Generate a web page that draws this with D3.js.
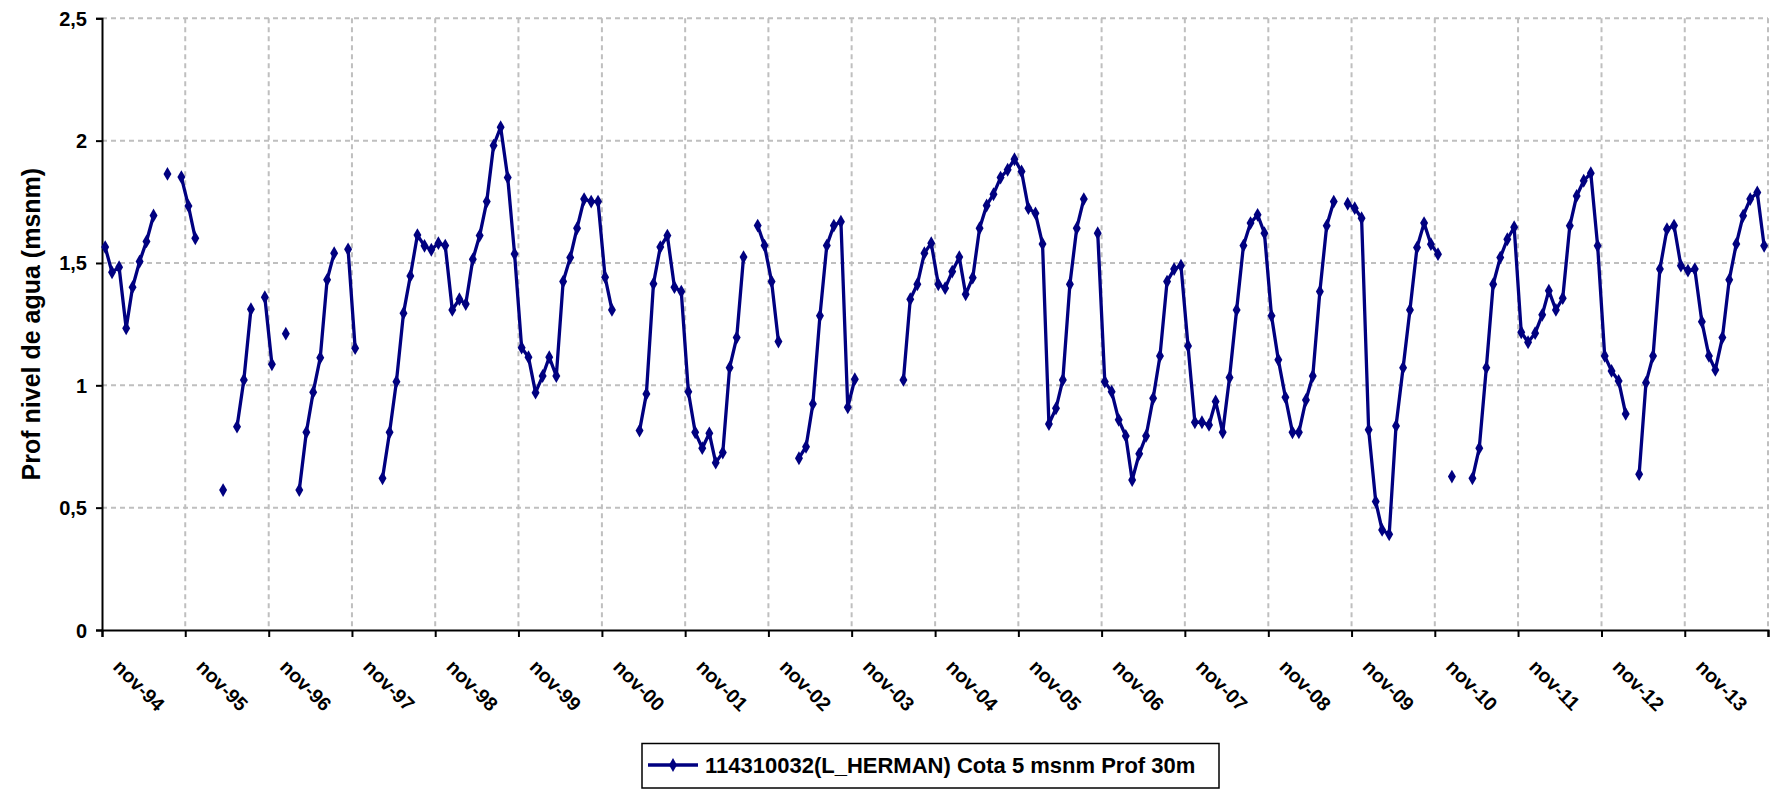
<!DOCTYPE html>
<html>
<head>
<meta charset="utf-8">
<script src="https://cdn.jsdelivr.net/npm/d3@7"></script>
<style>
  html, body { margin: 0; padding: 0; background: #fff; }
  svg { display: block; }
  text { font-family: "Liberation Sans", Arial, sans-serif; font-weight: bold; fill: #000; }
</style>
</head>
<body>
<svg id="chart" width="1776" height="789"></svg>
<script>
// ---- data ----
const seriesName = "114310032(L_HERMAN) Cota 5 msnm Prof 30m";
const firstMonth = "1994-11-15";   // first monthly reading
// monthly water depth values (null = no reading)
const values = [
  1.565, 1.462, 1.483, 1.233, 1.401, 1.506, 1.588, 1.694, null, 1.864,
  null, 1.851, 1.733, 1.601, null, null, null, 0.572, null, 0.831,
  1.022, 1.311, null, 1.360, 1.086, null, 1.211, null, 0.572, 0.808,
  0.972, 1.113, 1.431, 1.540, null, 1.556, 1.152, null, null, null,
  0.620, 0.808, 1.015, 1.295, 1.447, 1.614, 1.570, 1.554, 1.581, 1.571,
  1.308, 1.352, 1.332, 1.515, 1.612, 1.751, 1.980, 2.055, 1.849, 1.537,
  1.154, 1.115, 0.970, 1.038, 1.115, 1.038, 1.424, 1.522, 1.642, 1.761,
  1.751, 1.751, 1.442, 1.308, null, null, null, 0.815, 0.965, 1.415,
  1.565, 1.612, 1.401, 1.383, 0.974, 0.808, 0.743, 0.804, 0.684, 0.725,
  1.072, 1.195, 1.524, null, 1.653, 1.571, 1.424, 1.179, null, null,
  0.702, 0.749, 0.924, 1.284, 1.571, 1.653, 1.669, 0.910, 1.025, null,
  null, null, null, null, null, 1.022, 1.352, 1.413, 1.540, 1.581,
  1.413, 1.397, 1.465, 1.524, 1.372, 1.440, 1.642, 1.735, 1.781, 1.849,
  1.881, 1.924, 1.874, 1.724, 1.703, 1.578, 0.842, 0.906, 1.022, 1.413,
  1.642, 1.761, null, 1.622, 1.015, 0.974, 0.859, 0.793, 0.613, 0.720,
  0.793, 0.947, 1.120, 1.424, 1.475, 1.489, 1.161, 0.849, 0.849, 0.838,
  0.934, 0.808, 1.032, 1.308, 1.571, 1.663, 1.697, 1.622, 1.284, 1.104,
  0.951, 0.808, 0.808, 0.940, 1.038, 1.383, 1.652, 1.751, null, 1.742,
  1.724, 1.683, 0.818, 0.525, 0.409, 0.391, 0.834, 1.072, 1.308, 1.563,
  1.663, 1.577, 1.536, null, 0.627, null, null, 0.620, 0.743, 1.072,
  1.413, 1.522, 1.597, 1.646, 1.217, 1.176, 1.213, 1.288, 1.387, 1.308,
  1.356, 1.652, 1.774, 1.836, 1.867, 1.570, 1.120, 1.059, 1.018, 0.883,
  null, 0.637, 1.011, 1.120, 1.475, 1.638, 1.653, 1.489, 1.469, 1.475,
  1.260, 1.120, 1.063, 1.195, 1.431, 1.578, 1.693, 1.761, 1.788, 1.570
];
const xTickLabels = ["nov-94","nov-95","nov-96","nov-97","nov-98","nov-99","nov-00",
  "nov-01","nov-02","nov-03","nov-04","nov-05","nov-06","nov-07","nov-08","nov-09",
  "nov-10","nov-11","nov-12","nov-13"];
const yTicks = [0, 0.5, 1, 1.5, 2, 2.5];
const yTickLabels = ["0", "0,5", "1", "1,5", "2", "2,5"];
const yTitle = "Prof nivel de agua (msnm)";

// ---- layout ----
const svg = d3.select("#chart");
const plotL = 102, plotR = 1768, plotT = 18.3, plotB = 630;
const color = "#000080";

const parse = d3.timeParse("%Y-%m-%d");
const start = parse(firstMonth);
const data = values.map((v, i) => ({ date: d3.timeMonth.offset(start, i), v }));

const tickDates = d3.range(xTickLabels.length + 1).map(i => new Date(1994 + i, 10, 1));
const x = d3.scaleTime().domain([tickDates[0], tickDates[tickDates.length - 1]]).range([plotL, plotR]);
const y = d3.scaleLinear().domain([0, 2.5]).range([plotB, plotT]);

// gridlines
const grid = svg.append("g");
grid.selectAll("line.h").data(yTicks.filter(d => d > 0)).join("line")
  .attr("x1", plotL).attr("x2", plotR)
  .attr("y1", d => y(d)).attr("y2", d => y(d))
  .attr("stroke", "#bfbfbf").attr("stroke-width", 2).attr("stroke-dasharray", "5,4");
grid.selectAll("line.v").data(tickDates.slice(1)).join("line")
  .attr("x1", d => x(d)).attr("x2", d => x(d))
  .attr("y1", plotT).attr("y2", plotB)
  .attr("stroke", "#bfbfbf").attr("stroke-width", 2).attr("stroke-dasharray", "5,4");

// y axis
const yAxis = d3.axisLeft(y).tickValues(yTicks).tickSize(6).tickPadding(9)
  .tickFormat((d, i) => yTickLabels[i]);
const gy = svg.append("g").attr("transform", `translate(${plotL},0)`).call(yAxis);
gy.select(".domain").attr("stroke", "#000").attr("stroke-width", 2);
gy.selectAll(".tick line").attr("stroke", "#000").attr("stroke-width", 2);
gy.selectAll(".tick text").attr("font-size", 20).attr("font-family", null).attr("dy", "0.35em");

// x axis
const xAxis = d3.axisBottom(x).tickValues(tickDates).tickSize(7).tickFormat(() => "");
const gx = svg.append("g").attr("transform", `translate(0,${plotB})`).call(xAxis);
gx.select(".domain").attr("stroke", "#000").attr("stroke-width", 2);
gx.selectAll(".tick line").attr("stroke", "#000").attr("stroke-width", 2);
gx.selectAll(".tick text").remove();
svg.append("g").selectAll("text").data(xTickLabels).join("text")
  .attr("transform", (d, i) => `translate(${x(tickDates[i]) + 10},${plotB + 38}) rotate(45)`)
  .attr("font-size", 19.5)
  .text(d => d);

// y title
svg.append("text")
  .attr("transform", `translate(40,${(plotT + plotB) / 2}) rotate(-90)`)
  .attr("text-anchor", "middle")
  .attr("font-size", 25)
  .text(yTitle);

// series line
const line = d3.line().defined(d => d.v != null).x(d => x(d.date)).y(d => y(d.v));
svg.append("path").datum(data)
  .attr("d", line)
  .attr("fill", "none").attr("stroke", color).attr("stroke-width", 3.3)
  .attr("stroke-linejoin", "round");

const diamond = d3.symbol().type(d3.symbolDiamond).size(55);
svg.append("g").selectAll("path").data(data.filter(d => d.v != null)).join("path")
  .attr("transform", d => `translate(${x(d.date)},${y(d.v)})`)
  .attr("d", diamond)
  .attr("fill", color);

// legend
const lg = svg.append("g");
lg.append("rect").attr("x", 642).attr("y", 743.5).attr("width", 577).attr("height", 44.5)
  .attr("fill", "#fff").attr("stroke", "#000").attr("stroke-width", 1.5);
lg.append("line").attr("x1", 648).attr("x2", 698).attr("y1", 765).attr("y2", 765)
  .attr("stroke", color).attr("stroke-width", 3.3);
lg.append("path").attr("transform", "translate(673,765)").attr("d", diamond).attr("fill", color);
lg.append("text").attr("x", 705).attr("y", 773).attr("font-size", 22).text(seriesName);
</script>
</body>
</html>
